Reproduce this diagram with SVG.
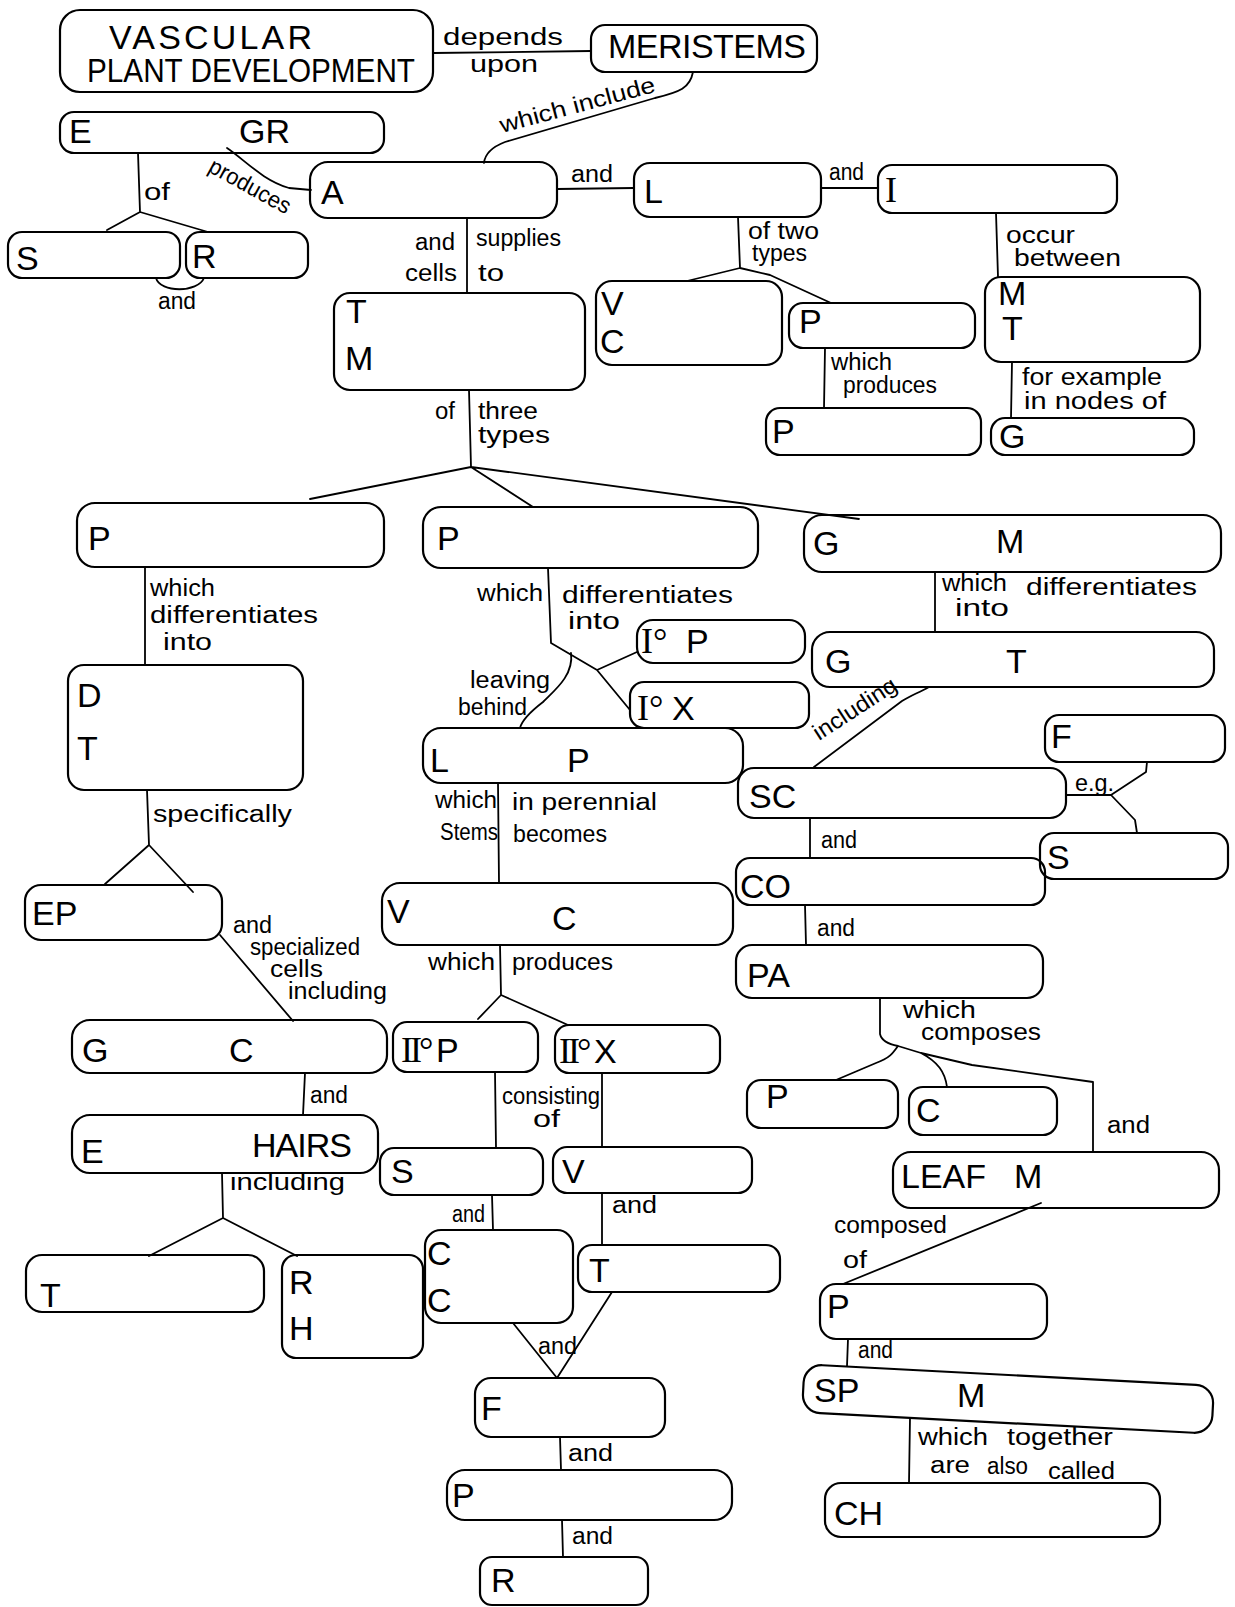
<svg xmlns="http://www.w3.org/2000/svg" width="1235" height="1607" viewBox="0 0 1235 1607">
<style>
.bg{fill:#fff}
.box{fill:none;stroke:#000;stroke-width:2.2}
.ln{fill:none;stroke:#000;stroke-width:1.8;stroke-linejoin:round;stroke-linecap:round}
.nt{font-family:"Liberation Sans",Arial,sans-serif;font-size:34px;fill:#000}
.rn{font-family:"Liberation Serif","Times New Roman",serif;font-size:36px;fill:#000}
.lb{font-family:"Liberation Sans",Arial,sans-serif;font-size:23px;fill:#000}
</style>
<rect class="bg" x="0" y="0" width="1235" height="1607"/>
<g id="connectors">
<path class="ln" d="M433 53 L591 51"/>
<path class="ln" d="M693 72 C690 88 680 92 655 98 L505 142 C492 147 485 153 484 163"/>
<path class="ln" d="M138 153 L140 212 M107 230 L140 212 L208 232"/>
<path class="ln" d="M156 278 C160 293 198 293 204 278"/>
<path class="ln" d="M227 148 C245 160 262 180 289 188 L311 190"/>
<path class="ln" d="M557 189 L634 188"/>
<path class="ln" d="M821 188 L878 188"/>
<path class="ln" d="M467 218 L467 293"/>
<path class="ln" d="M738 217 L740 268 M687 281 L740 268 L770 275 L831 303"/>
<path class="ln" d="M825 348 L824 408"/>
<path class="ln" d="M996 213 L998 277"/>
<path class="ln" d="M1012 362 L1011 418"/>
<path class="ln" d="M469 390 L471 467 M310 499 L471 467 L533 507 M471 467 L859 519"/>
<path class="ln" d="M145 568 L145 665"/>
<path class="ln" d="M147 790 L149 845 M105 884 L149 845 L193 892"/>
<path class="ln" d="M220 935 L293 1021"/>
<path class="ln" d="M305 1073 L303 1115"/>
<path class="ln" d="M222 1173 L223 1218 M149 1256 L223 1218 L297 1256"/>
<path class="ln" d="M548 568 L551 643 L597 670 L630 710 M597 670 L637 652"/>
<path class="ln" d="M571 653 C574 675 555 690 543 702 C530 712 522 720 520 728"/>
<path class="ln" d="M498 783 L499 883"/>
<path class="ln" d="M500 945 L501 995 M478 1019 L501 995 L568 1025"/>
<path class="ln" d="M495 1072 L496 1148 M602 1073 L602 1147"/>
<path class="ln" d="M492 1195 L493 1230 M602 1193 L602 1245"/>
<path class="ln" d="M513 1323 L557 1378 L612 1292"/>
<path class="ln" d="M560 1437 L561 1470 M562 1520 L563 1557"/>
<path class="ln" d="M935 572 L935 632"/>
<path class="ln" d="M929 687 C918 693 910 696 902 701 L814 767"/>
<path class="ln" d="M1066 795 L1111 795 M1147 762 L1146 772 L1111 795 L1135 820 L1137 833"/>
<path class="ln" d="M810 818 L810 858 M805 905 L806 945"/>
<path class="ln" d="M880 998 L880 1034 Q882 1043 898 1046 M898 1046 C893 1053 890 1058 876 1063 L836 1080 M898 1046 L921 1053 C938 1062 945 1072 947 1087 M921 1053 L972 1065 L1093 1082 L1093 1152"/>
<path class="ln" d="M1041 1203 L843 1284"/>
<path class="ln" d="M848 1339 L847 1366"/>
<path class="ln" d="M910 1418 L909 1483"/>
</g>
<g id="labels">
<text class="lb" x="443" y="45" font-size="25" textLength="120" lengthAdjust="spacingAndGlyphs">depends</text>
<text class="lb" x="470" y="72" font-size="25" textLength="68" lengthAdjust="spacingAndGlyphs">upon</text>
<text class="lb" x="502" y="133" textLength="160" lengthAdjust="spacingAndGlyphs" transform="rotate(-15 502 133)">which include</text>
<text class="lb" x="144" y="200" font-size="26" textLength="26" lengthAdjust="spacingAndGlyphs">of</text>
<text class="lb" x="158" y="309" textLength="38" lengthAdjust="spacingAndGlyphs">and</text>
<text class="lb" x="207" y="171" font-size="20" textLength="90" lengthAdjust="spacingAndGlyphs" transform="rotate(29 207 171)">produces</text>
<text class="lb" x="571" y="182" textLength="42" lengthAdjust="spacingAndGlyphs">and</text>
<text class="lb" x="829" y="180" font-size="21" textLength="35" lengthAdjust="spacingAndGlyphs">and</text>
<text class="lb" x="415" y="250" font-size="24" textLength="40" lengthAdjust="spacingAndGlyphs">and</text>
<text class="lb" x="405" y="281" font-size="24" textLength="52" lengthAdjust="spacingAndGlyphs">cells</text>
<text class="lb" x="476" y="246" font-size="24" textLength="85" lengthAdjust="spacingAndGlyphs">supplies</text>
<text class="lb" x="478" y="281" font-size="24" textLength="26" lengthAdjust="spacingAndGlyphs">to</text>
<text class="lb" x="748" y="239" font-size="21" textLength="71" lengthAdjust="spacingAndGlyphs">of two</text>
<text class="lb" x="752" y="261" font-size="20" textLength="55" lengthAdjust="spacingAndGlyphs">types</text>
<text class="lb" x="831" y="370" font-size="22" textLength="61" lengthAdjust="spacingAndGlyphs">which</text>
<text class="lb" x="843" y="393" font-size="22" textLength="94" lengthAdjust="spacingAndGlyphs">produces</text>
<text class="lb" x="1006" y="243" font-size="24" textLength="69" lengthAdjust="spacingAndGlyphs">occur</text>
<text class="lb" x="1014" y="266" font-size="24" textLength="107" lengthAdjust="spacingAndGlyphs">between</text>
<text class="lb" x="1022" y="385" font-size="24" textLength="140" lengthAdjust="spacingAndGlyphs">for example</text>
<text class="lb" x="1024" y="409" font-size="24" textLength="142" lengthAdjust="spacingAndGlyphs">in nodes of</text>
<text class="lb" x="435" y="419" font-size="24" textLength="20" lengthAdjust="spacingAndGlyphs">of</text>
<text class="lb" x="478" y="419" font-size="22" textLength="60" lengthAdjust="spacingAndGlyphs">three</text>
<text class="lb" x="478" y="443" font-size="22" textLength="72" lengthAdjust="spacingAndGlyphs">types</text>
<text class="lb" x="150" y="596" textLength="65" lengthAdjust="spacingAndGlyphs">which</text>
<text class="lb" x="150" y="623" textLength="168" lengthAdjust="spacingAndGlyphs">differentiates</text>
<text class="lb" x="163" y="650" textLength="49" lengthAdjust="spacingAndGlyphs">into</text>
<text class="lb" x="153" y="822" font-size="24" textLength="139" lengthAdjust="spacingAndGlyphs">specifically</text>
<text class="lb" x="233" y="933" font-size="19" textLength="39" lengthAdjust="spacingAndGlyphs">and</text>
<text class="lb" x="250" y="955" font-size="19" textLength="110" lengthAdjust="spacingAndGlyphs">specialized</text>
<text class="lb" x="270" y="977" font-size="19" textLength="53" lengthAdjust="spacingAndGlyphs">cells</text>
<text class="lb" x="288" y="999" font-size="19" textLength="99" lengthAdjust="spacingAndGlyphs">including</text>
<text class="lb" x="310" y="1103" textLength="38" lengthAdjust="spacingAndGlyphs">and</text>
<text class="lb" x="230" y="1190" font-size="24" textLength="115" lengthAdjust="spacingAndGlyphs">including</text>
<text class="lb" x="477" y="601" textLength="66" lengthAdjust="spacingAndGlyphs">which</text>
<text class="lb" x="562" y="603" textLength="171" lengthAdjust="spacingAndGlyphs">differentiates</text>
<text class="lb" x="568" y="629" textLength="52" lengthAdjust="spacingAndGlyphs">into</text>
<text class="lb" x="470" y="688" font-size="24" textLength="80" lengthAdjust="spacingAndGlyphs">leaving</text>
<text class="lb" x="458" y="715" font-size="24" textLength="69" lengthAdjust="spacingAndGlyphs">behind</text>
<text class="lb" x="435" y="808" textLength="62" lengthAdjust="spacingAndGlyphs">which</text>
<text class="lb" x="512" y="810" font-size="24" textLength="145" lengthAdjust="spacingAndGlyphs">in perennial</text>
<text class="lb" x="440" y="840" textLength="58" lengthAdjust="spacingAndGlyphs">Stems</text>
<text class="lb" x="513" y="842" textLength="94" lengthAdjust="spacingAndGlyphs">becomes</text>
<text class="lb" x="428" y="970" textLength="67" lengthAdjust="spacingAndGlyphs">which</text>
<text class="lb" x="512" y="970" font-size="24" textLength="101" lengthAdjust="spacingAndGlyphs">produces</text>
<text class="lb" x="502" y="1104" font-size="22" textLength="98" lengthAdjust="spacingAndGlyphs">consisting</text>
<text class="lb" x="533" y="1127" font-size="22" textLength="27" lengthAdjust="spacingAndGlyphs">of</text>
<text class="lb" x="452" y="1222" textLength="33" lengthAdjust="spacingAndGlyphs">and</text>
<text class="lb" x="612" y="1213" textLength="45" lengthAdjust="spacingAndGlyphs">and</text>
<text class="lb" x="538" y="1354" textLength="39" lengthAdjust="spacingAndGlyphs">and</text>
<text class="lb" x="568" y="1461" textLength="45" lengthAdjust="spacingAndGlyphs">and</text>
<text class="lb" x="572" y="1544" textLength="41" lengthAdjust="spacingAndGlyphs">and</text>
<text class="lb" x="942" y="591" font-size="22" textLength="65" lengthAdjust="spacingAndGlyphs">which</text>
<text class="lb" x="1026" y="595" font-size="22" textLength="171" lengthAdjust="spacingAndGlyphs">differentiates</text>
<text class="lb" x="955" y="616" font-size="22" textLength="54" lengthAdjust="spacingAndGlyphs">into</text>
<text class="lb" x="819" y="741" font-size="19" textLength="95" lengthAdjust="spacingAndGlyphs" transform="rotate(-33 819 741)">including</text>
<text class="lb" x="1075" y="791" font-size="22" textLength="39" lengthAdjust="spacingAndGlyphs">e.g.</text>
<text class="lb" x="821" y="848" textLength="36" lengthAdjust="spacingAndGlyphs">and</text>
<text class="lb" x="817" y="936" textLength="38" lengthAdjust="spacingAndGlyphs">and</text>
<text class="lb" x="903" y="1018" font-size="19" textLength="73" lengthAdjust="spacingAndGlyphs">which</text>
<text class="lb" x="921" y="1040" font-size="19" textLength="120" lengthAdjust="spacingAndGlyphs">composes</text>
<text class="lb" x="1107" y="1133" textLength="43" lengthAdjust="spacingAndGlyphs">and</text>
<text class="lb" x="834" y="1233" textLength="113" lengthAdjust="spacingAndGlyphs">composed</text>
<text class="lb" x="843" y="1268" textLength="24" lengthAdjust="spacingAndGlyphs">of</text>
<text class="lb" x="858" y="1358" font-size="21" textLength="35" lengthAdjust="spacingAndGlyphs">and</text>
<text class="lb" x="918" y="1445" font-size="22" textLength="70" lengthAdjust="spacingAndGlyphs">which</text>
<text class="lb" x="1007" y="1445" font-size="22" textLength="106" lengthAdjust="spacingAndGlyphs">together</text>
<text class="lb" x="930" y="1473" font-size="22" textLength="40" lengthAdjust="spacingAndGlyphs">are</text>
<text class="lb" x="987" y="1474" font-size="22" textLength="41" lengthAdjust="spacingAndGlyphs">also</text>
<text class="lb" x="1048" y="1479" font-size="22" textLength="67" lengthAdjust="spacingAndGlyphs">called</text>
</g>
<g id="n-vpd"><rect class="box" x="60" y="10" width="373" height="82" rx="20"/><text class="nt" x="109" y="49" font-size="33" textLength="203">VASCULAR</text><text class="nt" x="87" y="82" font-size="28" textLength="328" lengthAdjust="spacingAndGlyphs">PLANT DEVELOPMENT</text></g>
<g id="n-meristems"><rect class="box" x="591" y="25" width="226" height="47" rx="14"/><text class="nt" x="608" y="58" font-size="30" textLength="198">MERISTEMS</text></g>
<g id="n-egr"><rect class="box" x="60" y="112" width="324" height="41" rx="14"/><text class="nt" x="69" y="143" font-size="30">E</text><text class="nt" x="239" y="143" font-size="30">GR</text></g>
<g id="n-s1"><rect class="box" x="8" y="232" width="172" height="46" rx="14"/><text class="nt" x="16" y="270" font-size="32">S</text></g>
<g id="n-r1"><rect class="box" x="186" y="232" width="122" height="46" rx="14"/><text class="nt" x="192" y="268" font-size="32">R</text></g>
<g id="n-a"><rect class="box" x="310" y="162" width="247" height="56" rx="18"/><text class="nt" x="321" y="204">A</text></g>
<g id="n-l"><rect class="box" x="634" y="163" width="187" height="54" rx="16"/><text class="nt" x="644" y="203">L</text></g>
<g id="n-i"><rect class="box" x="878" y="165" width="239" height="48" rx="14"/><text class="rn" x="885" y="202" font-size="33">I</text></g>
<g id="n-vc1"><rect class="box" x="596" y="281" width="186" height="84" rx="16"/><text class="nt" x="601" y="315">V</text><text class="nt" x="600" y="353" font-size="33">C</text></g>
<g id="n-p-lat"><rect class="box" x="789" y="303" width="186" height="45" rx="14"/><text class="nt" x="799" y="333" font-size="32">P</text></g>
<g id="n-p-per"><rect class="box" x="766" y="408" width="215" height="47" rx="14"/><text class="nt" x="772" y="443">P</text></g>
<g id="n-mt"><rect class="box" x="985" y="277" width="215" height="85" rx="16"/><text class="nt" x="998" y="305" font-size="27">M</text><text class="nt" x="1002" y="340" font-size="28">T</text></g>
<g id="n-g1"><rect class="box" x="991" y="418" width="203" height="37" rx="14"/><text class="nt" x="999" y="448" font-size="31">G</text></g>
<g id="n-tm"><rect class="box" x="334" y="293" width="251" height="97" rx="16"/><text class="nt" x="346" y="323" font-size="27">T</text><text class="nt" x="345" y="370">M</text></g>
<g id="n-p1"><rect class="box" x="77" y="503" width="307" height="64" rx="18"/><text class="nt" x="88" y="550" font-size="38">P</text></g>
<g id="n-dt"><rect class="box" x="68" y="665" width="235" height="125" rx="16"/><text class="nt" x="77" y="707" font-size="38">D</text><text class="nt" x="77" y="760" font-size="38">T</text></g>
<g id="n-ep"><rect class="box" x="25" y="885" width="197" height="55" rx="16"/><text class="nt" x="32" y="925" font-size="32">EP</text></g>
<g id="n-gc"><rect class="box" x="72" y="1020" width="315" height="53" rx="18"/><text class="nt" x="82" y="1062" font-size="37">G</text><text class="nt" x="229" y="1062" font-size="37">C</text></g>
<g id="n-ehairs"><rect class="box" x="72" y="1115" width="306" height="58" rx="18"/><text class="nt" x="81" y="1163" font-size="45">E</text><text class="nt" x="252" y="1157" font-size="33" textLength="100">HAIRS</text></g>
<g id="n-t1"><rect class="box" x="26" y="1255" width="238" height="57" rx="16"/><text class="nt" x="40" y="1307" font-size="44">T</text></g>
<g id="n-rh"><rect class="box" x="282" y="1255" width="141" height="103" rx="14"/><text class="nt" x="289" y="1294" font-size="35">R</text><text class="nt" x="289" y="1340" font-size="37">H</text></g>
<g id="n-p2"><rect class="box" x="423" y="507" width="335" height="61" rx="18"/><text class="nt" x="437" y="550" font-size="38">P</text></g>
<g id="n-ip"><rect class="box" x="637" y="620" width="168" height="43" rx="16"/><text class="rn" x="641" y="653" font-size="34">I°</text><text class="nt" x="686" y="653">P</text></g>
<g id="n-ix"><rect class="box" x="630" y="682" width="179" height="46" rx="14"/><text class="rn" x="637" y="720" font-size="38">I°</text><text class="nt" x="672" y="720" font-size="38">X</text></g>
<g id="n-lp"><rect class="box" x="423" y="728" width="320" height="55" rx="18"/><text class="nt" x="430" y="772" font-size="38">L</text><text class="nt" x="567" y="772" font-size="38">P</text></g>
<g id="n-vc2"><rect class="box" x="382" y="883" width="351" height="62" rx="18"/><text class="nt" x="387" y="923" font-size="36">V</text><text class="nt" x="552" y="930" font-size="40">C</text></g>
<g id="n-iip"><rect class="box" x="393" y="1022" width="145" height="50" rx="14"/><text class="rn" x="401" y="1062" font-size="36" letter-spacing="-3">II°</text><text class="nt" x="436" y="1062">P</text></g>
<g id="n-iix"><rect class="box" x="555" y="1025" width="165" height="48" rx="14"/><text class="rn" x="559" y="1063" font-size="36" letter-spacing="-3">II°</text><text class="nt" x="594" y="1063" font-size="36">X</text></g>
<g id="n-s2"><rect class="box" x="380" y="1148" width="163" height="47" rx="14"/><text class="nt" x="391" y="1183">S</text></g>
<g id="n-v2"><rect class="box" x="553" y="1147" width="199" height="46" rx="14"/><text class="nt" x="562" y="1183" font-size="36">V</text></g>
<g id="n-cc"><rect class="box" x="425" y="1230" width="148" height="93" rx="16"/><text class="nt" x="427" y="1265" font-size="30">C</text><text class="nt" x="427" y="1312" font-size="30">C</text></g>
<g id="n-t2"><rect class="box" x="578" y="1245" width="202" height="47" rx="14"/><text class="nt" x="589" y="1282" font-size="37">T</text></g>
<g id="n-f"><rect class="box" x="475" y="1378" width="190" height="59" rx="16"/><text class="nt" x="481" y="1420" font-size="32">F</text></g>
<g id="n-p3"><rect class="box" x="447" y="1470" width="285" height="50" rx="18"/><text class="nt" x="452" y="1507" font-size="37">P</text></g>
<g id="n-r2"><rect class="box" x="480" y="1557" width="168" height="48" rx="12"/><text class="nt" x="491" y="1592" font-size="37">R</text></g>
<g id="n-gm"><rect class="box" x="804" y="515" width="417" height="57" rx="18"/><text class="nt" x="813" y="555" font-size="32">G</text><text class="nt" x="996" y="553" font-size="30">M</text></g>
<g id="n-gt"><rect class="box" x="812" y="632" width="402" height="55" rx="18"/><text class="nt" x="825" y="673" font-size="30">G</text><text class="nt" x="1006" y="673" font-size="30">T</text></g>
<g id="n-sc"><rect class="box" x="738" y="768" width="328" height="50" rx="16"/><text class="nt" x="749" y="808" font-size="38">SC</text></g>
<g id="n-f2"><rect class="box" x="1045" y="715" width="180" height="47" rx="14"/><text class="nt" x="1051" y="748" font-size="30">F</text></g>
<g id="n-s3"><rect class="box" x="1040" y="833" width="188" height="46" rx="14"/><text class="nt" x="1047" y="869" font-size="38">S</text></g>
<g id="n-co"><rect class="box" x="736" y="858" width="309" height="47" rx="14"/><text class="nt" x="740" y="898" font-size="37">CO</text></g>
<g id="n-pa"><rect class="box" x="736" y="945" width="307" height="53" rx="16"/><text class="nt" x="747" y="987" font-size="37">PA</text></g>
<g id="n-p4"><rect class="box" x="747" y="1080" width="151" height="48" rx="14"/><text class="nt" x="766" y="1108" font-size="30">P</text></g>
<g id="n-c4"><rect class="box" x="909" y="1087" width="148" height="48" rx="14"/><text class="nt" x="916" y="1122" font-size="33">C</text></g>
<g id="n-leafm"><rect class="box" x="893" y="1152" width="326" height="56" rx="18"/><text class="nt" x="901" y="1188" font-size="32">LEAF</text><text class="nt" x="1014" y="1188" font-size="32">M</text></g>
<g id="n-p5"><rect class="box" x="820" y="1284" width="227" height="55" rx="16"/><text class="nt" x="827" y="1318">P</text></g>
<g id="n-spm"><rect class="box" x="803" y="1375" width="410" height="48" rx="18" transform="rotate(3 1008 1399)"/><text class="nt" x="814" y="1402" font-size="32">SP</text><text class="nt" x="957" y="1407" font-size="32">M</text></g>
<g id="n-ch"><rect class="box" x="825" y="1483" width="335" height="54" rx="16"/><text class="nt" x="834" y="1525" font-size="42">CH</text></g>
</svg>
